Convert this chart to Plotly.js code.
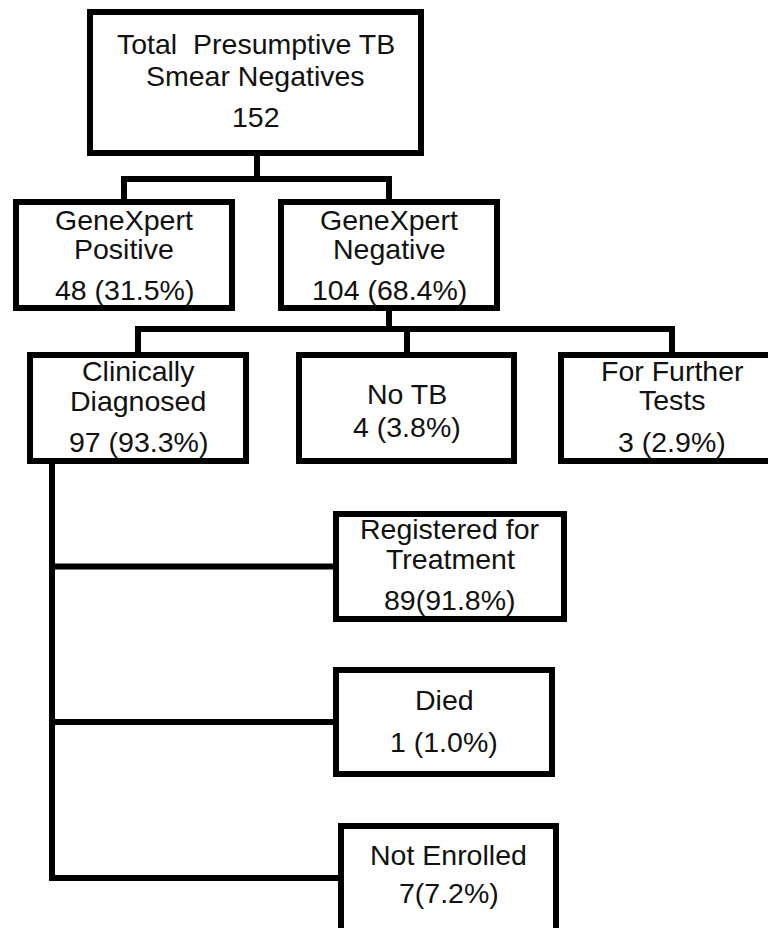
<!DOCTYPE html>
<html>
<head>
<meta charset="utf-8">
<script src="https://cdn.plot.ly/plotly-3.0.1.min.js"></script>
<style>html,body{margin:0;padding:0;background:#fff;}#chart{width:768px;height:928px;}</style>
</head>
<body>
<div id="chart"></div>
<script>
// ---- data ----
const nodeLabels = [
  ["Total\u00a0 Presumptive TB", "Smear Negatives"],
  ["GeneXpert", "Positive"],
  ["GeneXpert", "Negative"],
  ["Clinically", "Diagnosed"],
  ["No TB"],
  ["For Further", "Tests"],
  ["Registered for", "Treatment"],
  ["Died"],
  ["Not Enrolled"]
];
const nodeCounts = [152, 48, 104, 97, 4, 3, 89, 1, 7];
const nodePercents = [null, 31.5, 68.4, 93.3, 3.8, 2.9, 91.8, 1.0, 7.2];
const countSeparators = ["", " ", " ", " ", " ", " ", "", " ", ""];
const edges = [[0, 1], [0, 2], [2, 3], [2, 4], [2, 5], [3, 6], [3, 7], [3, 8]];

// ---- layout geometry (pixels, y downward) ----
const boxes = [
  {x0: 90, x1: 421, y0: 12, y1: 153, rows: [44, 76], countY: 117},
  {x0: 16, x1: 232, y0: 202, y1: 308, rows: [220, 249], countY: 290},
  {x0: 281, x1: 497, y0: 202, y1: 308, rows: [220, 249], countY: 290},
  {x0: 30, x1: 246, y0: 355, y1: 461, rows: [371, 401], countY: 442},
  {x0: 299, x1: 514, y0: 355, y1: 461, rows: [394], countY: 427},
  {x0: 561, x1: 783, y0: 355, y1: 461, rows: [371, 400], countY: 442},
  {x0: 336, x1: 564, y0: 514, y1: 619, rows: [529, 559], countY: 600},
  {x0: 336, x1: 552, y0: 670, y1: 774, rows: [700], countY: 742},
  {x0: 341, x1: 556, y0: 826, y1: 948, rows: [855], countY: 893}
];
const treeConn = {0: {busY: 179, dropX: 257}, 2: {busY: 329, dropX: 389}};
const sideConn = {3: {trunkX: 52}};
const childAnchorX = {4: 407};

const LW = 6;
const FONT = {family: "Liberation Sans, Arial, sans-serif", size: 28.5, color: "#111"};

const shapes = [];
const annotations = [];

boxes.forEach((b, i) => {
  shapes.push({type: "rect", xref: "x", yref: "y", x0: b.x0, x1: b.x1, y0: b.y0, y1: b.y1,
    line: {color: "#000", width: LW}, fillcolor: "rgba(0,0,0,0)", layer: "above"});
  const cx = (b.x0 + b.x1) / 2;
  nodeLabels[i].forEach((t, r) => {
    annotations.push({x: cx, y: b.rows[r], xref: "x", yref: "y", text: t, showarrow: false,
      xanchor: "center", yanchor: "middle", font: FONT});
  });
  const ct = nodePercents[i] == null ? String(nodeCounts[i])
    : nodeCounts[i] + countSeparators[i] + "(" + nodePercents[i].toFixed(1) + "%)";
  annotations.push({x: cx, y: b.countY, xref: "x", yref: "y", text: ct, showarrow: false,
    xanchor: "center", yanchor: "middle", font: FONT});
});

const center = i => (boxes[i].x0 + boxes[i].x1) / 2;
// group edges by parent
const byParent = {};
edges.forEach(([p, c]) => { (byParent[p] = byParent[p] || []).push(c); });
Object.keys(byParent).forEach(pk => {
  const p = +pk, kids = byParent[p], pb = boxes[p];
  if (treeConn[p]) {
    const {busY, dropX} = treeConn[p];
    const xs = kids.map(c => childAnchorX[c] !== undefined ? childAnchorX[c] : center(c));
    shapes.push({type: "path", xref: "x", yref: "y",
      path: `M${dropX},${pb.y1} V${busY}`, line: {color: "#000", width: LW}});
    shapes.push({type: "path", xref: "x", yref: "y",
      path: `M${Math.min(...xs)},${boxes[kids[0]].y0} V${busY} H${Math.max(...xs)} V${boxes[kids[kids.length-1]].y0}`,
      line: {color: "#000", width: LW}});
    kids.slice(1, -1).forEach(c => {
      const x = childAnchorX[c] !== undefined ? childAnchorX[c] : center(c);
      shapes.push({type: "path", xref: "x", yref: "y", path: `M${x},${busY} V${boxes[c].y0}`,
        line: {color: "#000", width: LW}});
    });
  } else if (sideConn[p]) {
    const tx = sideConn[p].trunkX;
    const ys = kids.map(c => (boxes[c].y0 + boxes[c].y1) / 2);
    ys[kids.length - 1] = boxes[kids[kids.length - 1]].rows[0] + 23;
    const last = kids.length - 1;
    shapes.push({type: "path", xref: "x", yref: "y",
      path: `M${tx},${pb.y1} V${ys[last]} H${boxes[kids[last]].x0}`, line: {color: "#000", width: LW}});
    kids.slice(0, -1).forEach((c, k) => {
      shapes.push({type: "path", xref: "x", yref: "y", path: `M${tx},${ys[k]} H${boxes[c].x0}`,
        line: {color: "#000", width: LW}});
    });
  }
});

const layout = {
  width: 768, height: 928,
  margin: {l: 0, r: 0, t: 0, b: 0},
  paper_bgcolor: "#fff", plot_bgcolor: "#fff",
  xaxis: {range: [0, 768], visible: false, fixedrange: true},
  yaxis: {range: [928, 0], visible: false, fixedrange: true},
  showlegend: false,
  shapes: shapes,
  annotations: annotations
};
Plotly.newPlot("chart", [{x: [], y: [], type: "scatter", mode: "markers", hoverinfo: "skip"}], layout,
  {staticPlot: true, displayModeBar: false});
</script>
</body>
</html>
